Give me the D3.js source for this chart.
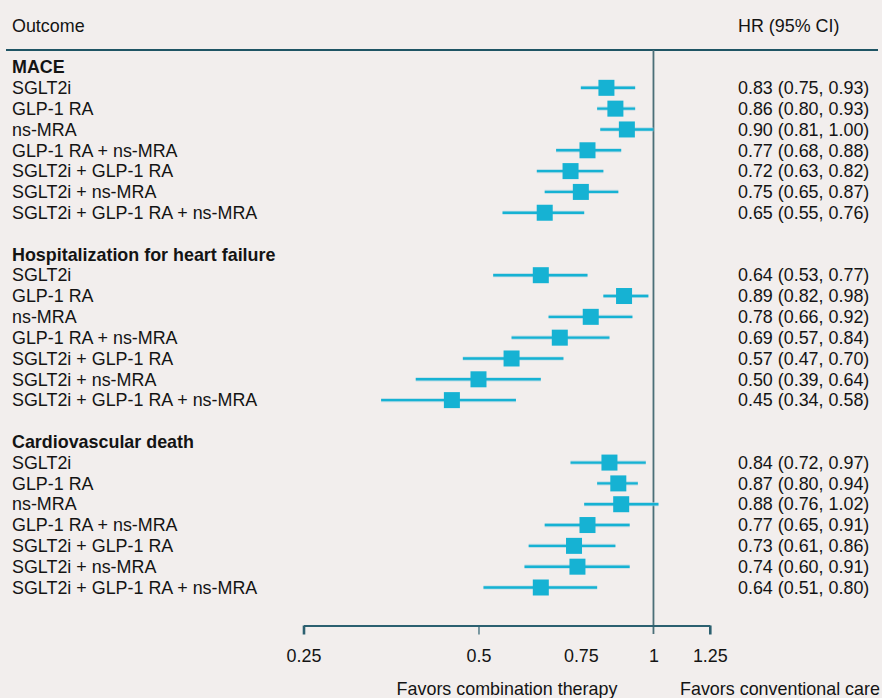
<!DOCTYPE html>
<html>
<head>
<meta charset="utf-8">
<script src="https://cdn.jsdelivr.net/npm/d3@7"></script>
<style>
  html, body { margin: 0; padding: 0; background: #f2eeed; }
  svg { display: block; font-family: "Liberation Sans", Arial, sans-serif; }
</style>
</head>
<body>
<svg id="chart" width="882" height="698"></svg>
<script>
// Outcome groups and the treatment rows within each
const outcomes = ["MACE", "Hospitalization for heart failure", "Cardiovascular death"];
const treatments = ["SGLT2i", "GLP-1 RA", "ns-MRA", "GLP-1 RA + ns-MRA", "SGLT2i + GLP-1 RA", "SGLT2i + ns-MRA", "SGLT2i + GLP-1 RA + ns-MRA"];

// Hazard ratios and 95% CI bounds, one array per outcome (same order as treatments)
const maceHR = [0.83, 0.86, 0.90, 0.77, 0.72, 0.75, 0.65];
const maceLo = [0.75, 0.80, 0.81, 0.68, 0.63, 0.65, 0.55];
const maceHi = [0.93, 0.93, 1.00, 0.88, 0.82, 0.87, 0.76];

const hfHR = [0.64, 0.89, 0.78, 0.69, 0.57, 0.50, 0.45];
const hfLo = [0.53, 0.82, 0.66, 0.57, 0.47, 0.39, 0.34];
const hfHi = [0.77, 0.98, 0.92, 0.84, 0.70, 0.64, 0.58];

const cvHR = [0.84, 0.87, 0.88, 0.77, 0.73, 0.74, 0.64];
const cvLo = [0.72, 0.80, 0.76, 0.65, 0.61, 0.60, 0.51];
const cvHi = [0.97, 0.94, 1.02, 0.91, 0.86, 0.91, 0.80];

const tickValues = [0.25, 0.5, 0.75, 1, 1.25];
const tickLabels = ["0.25", "0.5", "0.75", "1", "1.25"];
const favorLeft = "Favors combination therapy";
const favorRight = "Favors conventional care";

const groupData = [
  { hr: maceHR, lo: maceLo, hi: maceHi },
  { hr: hfHR, lo: hfLo, hi: hfHi },
  { hr: cvHR, lo: cvLo, hi: cvHi }
];

// Build a flat row list: header, 7 treatment rows, blank spacer
const rows = [];
outcomes.forEach((o, gi) => {
  rows.push({ type: "header", label: o });
  treatments.forEach((t, ti) => {
    rows.push({
      type: "row", label: t,
      hr: groupData[gi].hr[ti], lo: groupData[gi].lo[ti], hi: groupData[gi].hi[ti]
    });
  });
  if (gi < outcomes.length - 1) rows.push({ type: "blank" });
});

const svg = d3.select("#chart");
const fs = 17.9;
const textColor = "#141414";
const lineDark = "#1f5464";
const markColor = "#16b2d3";

const x = d3.scaleLog().domain([0.25, 1.25]).range([303.5, 709.8]);
const y = d3.scaleLinear().domain([0, rows.length - 1]).range([67, 67 + (rows.length - 1) * 20.82]);

// Column headers
svg.append("text").attr("x", 12).attr("y", 26).attr("dy", "0.35em")
  .attr("font-size", fs).attr("fill", textColor).text("Outcome");
svg.append("text").attr("x", 738).attr("y", 26).attr("dy", "0.35em")
  .attr("font-size", fs).attr("fill", textColor).text("HR (95% CI)");

// Header rule
svg.append("line").attr("x1", 6).attr("x2", 878).attr("y1", 50).attr("y2", 50)
  .attr("stroke", lineDark).attr("stroke-width", 2.2);

// Reference line at HR = 1
svg.append("line").attr("x1", x(1)).attr("x2", x(1)).attr("y1", 50).attr("y2", 634)
  .attr("stroke", "#4b6f78").attr("stroke-width", 1.8);

// Row labels
svg.append("g").selectAll("text").data(rows.filter(r => r.type !== "blank"))
  .join("text")
  .attr("x", 12)
  .attr("y", d => y(rows.indexOf(d)))
  .attr("dy", "0.35em")
  .attr("font-size", fs)
  .attr("font-weight", d => d.type === "header" ? "bold" : "normal")
  .attr("fill", textColor)
  .text(d => d.label);

const dataRows = rows.map((r, i) => Object.assign({ i }, r)).filter(r => r.type === "row");

// Confidence intervals
const ci = svg.append("g");
ci.selectAll("line.halo").data(dataRows).join("line")
  .attr("class", "halo")
  .attr("x1", d => x(d.lo)).attr("x2", d => x(d.hi))
  .attr("y1", d => y(d.i)).attr("y2", d => y(d.i))
  .attr("stroke", "#9fd3e2").attr("stroke-width", 4.2).attr("opacity", 0.6);
ci.selectAll("line.ci").data(dataRows).join("line")
  .attr("class", "ci")
  .attr("x1", d => x(d.lo)).attr("x2", d => x(d.hi))
  .attr("y1", d => y(d.i)).attr("y2", d => y(d.i))
  .attr("stroke", markColor).attr("stroke-width", 2.4);

// Point estimates
const sq = 16;
svg.append("g").selectAll("rect").data(dataRows).join("rect")
  .attr("x", d => x(d.hr) - sq / 2)
  .attr("y", d => y(d.i) - sq / 2)
  .attr("width", sq).attr("height", sq)
  .attr("fill", markColor);

// HR text column
svg.append("g").selectAll("text").data(dataRows).join("text")
  .attr("x", 738)
  .attr("y", d => y(d.i))
  .attr("dy", "0.35em")
  .attr("font-size", fs)
  .attr("fill", textColor)
  .text(d => `${d.hr.toFixed(2)} (${d.lo.toFixed(2)}, ${d.hi.toFixed(2)})`);

// X axis
const axisY = 625.5;
const axis = d3.axisBottom(x)
  .tickValues(tickValues)
  .tickFormat((d, i) => tickLabels[i])
  .tickSizeOuter(0)
  .tickSizeInner(9)
  .tickPadding(15);
const ax = svg.append("g").attr("transform", `translate(0,${axisY})`).call(axis);
ax.select(".domain").attr("stroke", "#2c6070").attr("stroke-width", 1.8);
ax.selectAll(".tick line")
  .attr("stroke", "#2c6070")
  .attr("stroke-width", d => (d === 0.25 || d === 1.25) ? 2.6 : 1.2)
  .attr("opacity", d => (d === 0.75 || d === 1) ? 0 : 1);
ax.selectAll(".tick text")
  .attr("font-size", fs).attr("fill", textColor)
  .attr("font-family", "\"Liberation Sans\", Arial, sans-serif");

// Direction labels
svg.append("text").attr("x", 507).attr("y", 689).attr("dy", "0.35em")
  .attr("text-anchor", "middle").attr("font-size", fs).attr("fill", textColor).text(favorLeft);
svg.append("text").attr("x", 780).attr("y", 689).attr("dy", "0.35em")
  .attr("text-anchor", "middle").attr("font-size", fs).attr("fill", textColor).text(favorRight);
</script>
</body>
</html>
